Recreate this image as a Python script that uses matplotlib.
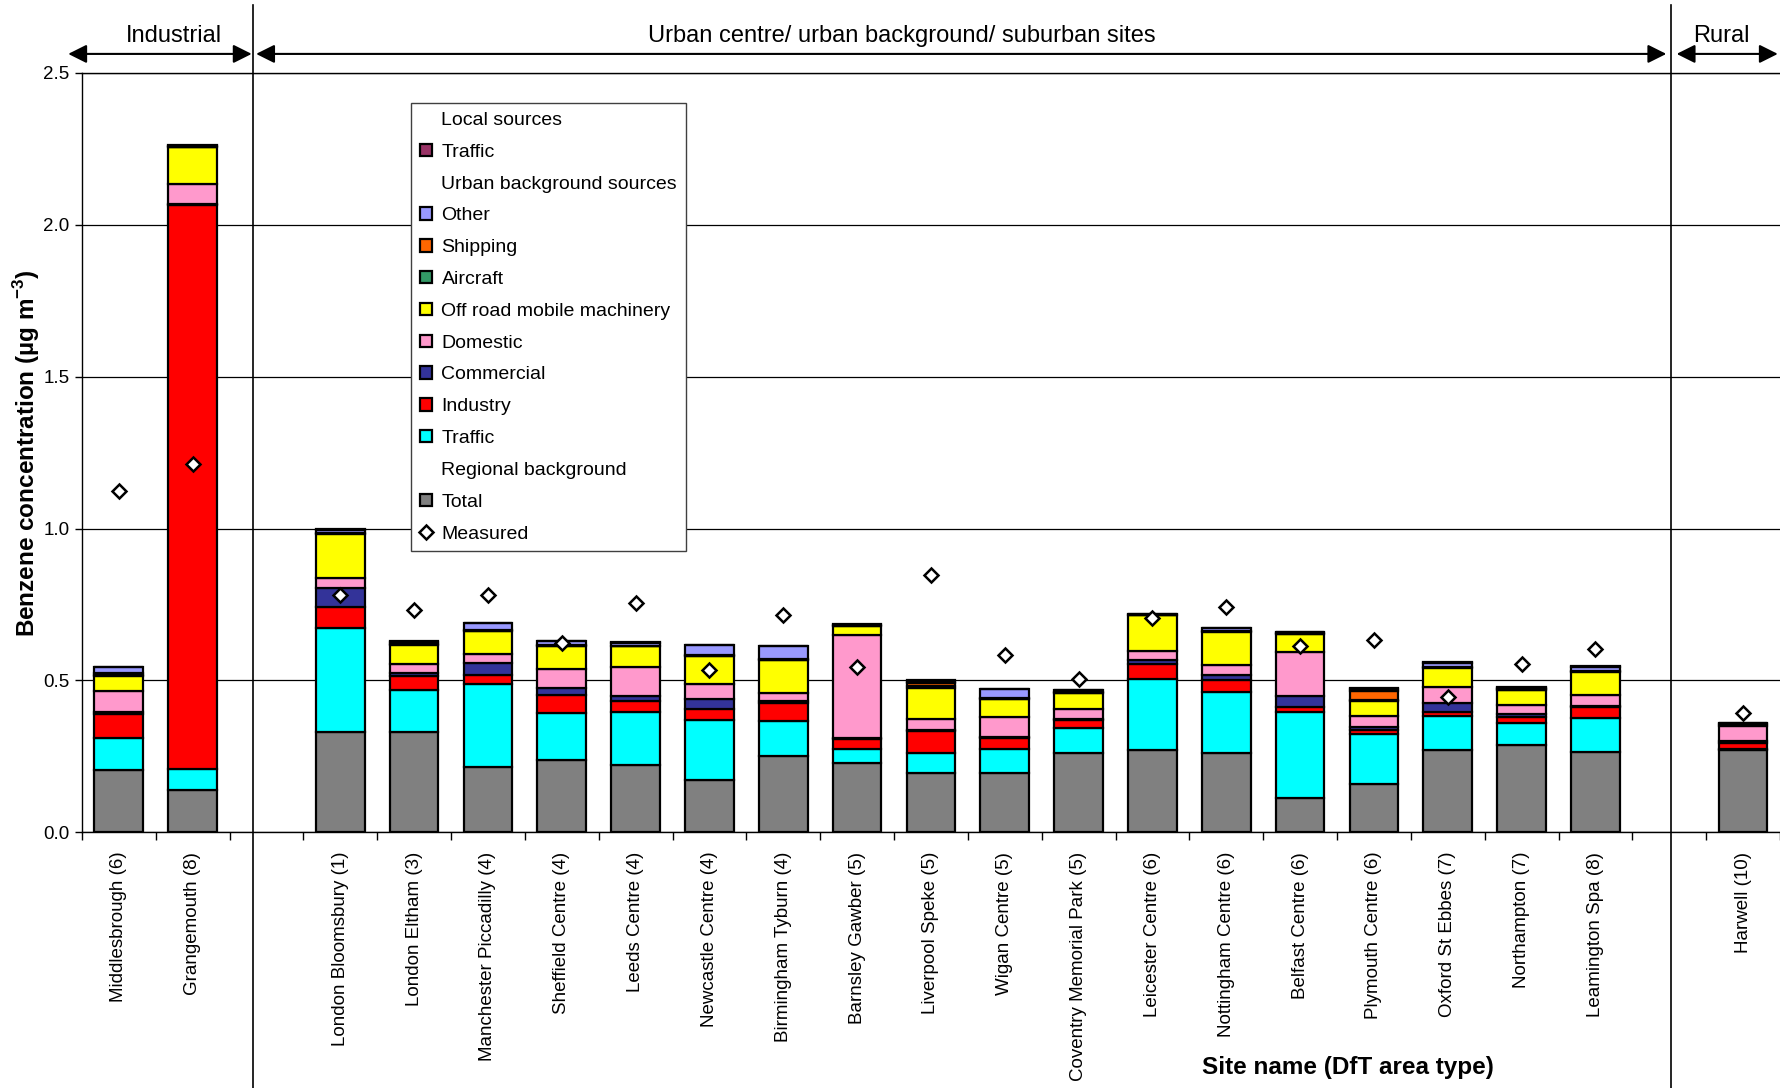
import matplotlib
matplotlib.use('Agg')
import matplotlib.pyplot as plt
from matplotlib.patches import Patch
from matplotlib.lines import Line2D
import numpy as np

plt.rcParams['font.family'] = ['Liberation Sans', 'DejaVu Sans']

# ---------------- data ----------------
industrial_sites = ["Middlesbrough (6)", "Grangemouth (8)"]
urban_sites = ["London Bloomsbury (1)", "London Eltham (3)", "Manchester Piccadilly (4)",
               "Sheffield Centre (4)", "Leeds Centre (4)", "Newcastle Centre (4)",
               "Birmingham Tyburn (4)", "Barnsley Gawber (5)", "Liverpool Speke (5)",
               "Wigan Centre (5)", "Coventry Memorial Park (5)", "Leicester Centre (6)",
               "Nottingham Centre (6)", "Belfast Centre (6)", "Plymouth Centre (6)",
               "Oxford St Ebbes (7)", "Northampton (7)", "Leamington Spa (8)"]
rural_sites = ["Harwell (10)"]
group_names = ["Industrial", "Urban centre/ urban background/ suburban sites", "Rural"]

regional_total = [0.205, 0.140, 0.329, 0.331, 0.214, 0.238, 0.220, 0.172, 0.251, 0.227,
                  0.196, 0.196, 0.262, 0.270, 0.261, 0.112, 0.160, 0.272, 0.287, 0.264, 0.270]
ub_traffic     = [0.105, 0.068, 0.342, 0.138, 0.273, 0.154, 0.176, 0.198, 0.116, 0.046,
                  0.066, 0.077, 0.082, 0.234, 0.202, 0.284, 0.163, 0.111, 0.072, 0.112, 0.003]
ub_industry    = [0.080, 1.858, 0.071, 0.046, 0.030, 0.059, 0.036, 0.037, 0.060, 0.033,
                  0.072, 0.036, 0.025, 0.050, 0.038, 0.017, 0.013, 0.013, 0.022, 0.035, 0.022]
ub_commercial  = [0.005, 0.003, 0.063, 0.009, 0.042, 0.025, 0.017, 0.031, 0.006, 0.003,
                  0.003, 0.005, 0.005, 0.014, 0.018, 0.036, 0.012, 0.031, 0.010, 0.005, 0.005]
ub_domestic    = [0.070, 0.064, 0.031, 0.029, 0.027, 0.061, 0.094, 0.050, 0.027, 0.339,
                  0.035, 0.064, 0.033, 0.029, 0.032, 0.144, 0.035, 0.052, 0.029, 0.036, 0.050]
ub_offroad     = [0.050, 0.122, 0.146, 0.064, 0.076, 0.076, 0.069, 0.093, 0.107, 0.031,
                  0.102, 0.060, 0.051, 0.117, 0.110, 0.060, 0.050, 0.063, 0.049, 0.077, 0.005]
ub_aircraft    = [0.002, 0.000, 0.002, 0.002, 0.001, 0.001, 0.001, 0.001, 0.001, 0.001,
                  0.007, 0.001, 0.001, 0.001, 0.001, 0.001, 0.002, 0.001, 0.001, 0.001, 0.001]
ub_shipping    = [0.006, 0.002, 0.002, 0.002, 0.002, 0.002, 0.002, 0.002, 0.002, 0.002,
                  0.012, 0.002, 0.002, 0.002, 0.002, 0.002, 0.031, 0.002, 0.002, 0.002, 0.002]
ub_other       = [0.020, 0.003, 0.010, 0.007, 0.024, 0.013, 0.008, 0.033, 0.044, 0.002,
                  0.002, 0.030, 0.006, 0.001, 0.007, 0.002, 0.006, 0.014, 0.003, 0.013, 0.001]
local_traffic  = [0.002, 0.002, 0.003, 0.003, 0.001, 0.001, 0.002, 0.001, 0.001, 0.001,
                  0.005, 0.001, 0.002, 0.001, 0.003, 0.001, 0.003, 0.003, 0.003, 0.003, 0.002]
measured       = [1.123, 1.212, 0.782, 0.733, 0.782, 0.623, 0.754, 0.534, 0.714, 0.543,
                  0.846, 0.584, 0.504, 0.705, 0.743, 0.615, 0.634, 0.444, 0.553, 0.603, 0.392]

y_ticks = [0.0, 0.5, 1.0, 1.5, 2.0, 2.5]

# stacking order bottom -> top
series = [
    ("Total", regional_total, "#808080"),
    ("Traffic", ub_traffic, "#00FFFF"),
    ("Industry", ub_industry, "#FF0000"),
    ("Commercial", ub_commercial, "#333399"),
    ("Domestic", ub_domestic, "#FF99CC"),
    ("Off road mobile machinery", ub_offroad, "#FFFF00"),
    ("Aircraft", ub_aircraft, "#339966"),
    ("Shipping", ub_shipping, "#FF6600"),
    ("Other", ub_other, "#9999FF"),
    ("Traffic", local_traffic, "#993366"),
]

# ---------------- positions (one blank slot between groups) ----------------
groups = [industrial_sites, urban_sites, rural_sites]
sites, xpos = [], []
slot = 0
for gi, g in enumerate(groups):
    for s in g:
        sites.append(s)
        xpos.append(slot)
        slot += 1
    if gi < len(groups) - 1:
        slot += 1
n_slots = slot
xpos = np.array(xpos)

fig = plt.figure(figsize=(17.8, 10.88), dpi=100)
ax = fig.add_axes([0.046, 0.235, 0.954, 0.698])

bottom = np.zeros(len(sites))
for name, vals, col in series:
    v = np.array(vals)
    ax.bar(xpos, v, width=0.66, bottom=bottom, color=col, edgecolor='black',
           linewidth=1.6, zorder=3)
    bottom += v

ax.plot(xpos, measured, linestyle='none', marker='D', markersize=7.5,
        markerfacecolor='white', markeredgecolor='black', markeredgewidth=1.8, zorder=5)

ax.set_xlim(-0.5, n_slots - 0.5)
ax.set_ylim(0, 2.5)
ax.set_yticks(y_ticks)
ax.set_yticklabels([f"{t:.1f}" for t in y_ticks], fontsize=13.5)
ax.yaxis.grid(True, color='black', linewidth=0.9, zorder=0)
ax.set_axisbelow(True)
ax.tick_params(axis='y', direction='out', length=5, width=1, pad=4)

ax.set_xticks(xpos)
ax.set_xticklabels(sites, rotation=90, fontsize=13.5, va='top')
ax.tick_params(axis='x', which='major', length=0, pad=14)
ax.set_xticks(np.arange(-0.5, n_slots, 1.0), minor=True)
ax.tick_params(axis='x', which='minor', direction='out', length=6, width=1)

for sp in ['left', 'bottom', 'top']:
    ax.spines[sp].set_color('black')
    ax.spines[sp].set_linewidth(1.0)
ax.spines['right'].set_visible(False)

ax.set_ylabel("Benzene concentration (µg m$^{\\mathregular{-3}}$)", fontsize=17.5,
              fontweight='bold', labelpad=1)
fig.text(0.757, 0.0185, "Site name (DfT area type)", fontsize=17.5, fontweight='bold',
         ha='center', va='center')

# group separators
for xs in [1.82, 21.03]:
    ax.axvline(xs, ymin=-0.337, ymax=1.09, color='black', linewidth=1.2, clip_on=False, zorder=6)

# group arrows and labels
arrow_y = 1.025
spans = [(-0.685, 1.80), (1.86, 20.96), (21.10, 22.47)]
for (x0, x1), gname in zip(spans, group_names):
    ax.annotate('', xy=(x1, arrow_y), xytext=(x0, arrow_y),
                xycoords=('data', 'axes fraction'), textcoords=('data', 'axes fraction'),
                arrowprops=dict(arrowstyle='<|-|>', color='black', lw=1.5,
                                mutation_scale=28, shrinkA=0, shrinkB=0),
                annotation_clip=False)
label_x = [0.75, 10.6, 21.7]
for lx, gname in zip(label_x, group_names):
    ax.text(lx, 1.048, gname, transform=ax.get_xaxis_transform(), ha='center', va='center',
            fontsize=17)

# legend
blank = Patch(facecolor='none', edgecolor='none')
def sq(c):
    return Patch(facecolor=c, edgecolor='black', linewidth=1.6)
handles = [blank, sq("#993366"), blank, sq("#9999FF"), sq("#FF6600"), sq("#339966"),
           sq("#FFFF00"), sq("#FF99CC"), sq("#333399"), sq("#FF0000"), sq("#00FFFF"),
           blank, sq("#808080"),
           Line2D([], [], linestyle='none', marker='D', markersize=7, markerfacecolor='white',
                  markeredgecolor='black', markeredgewidth=1.8)]
labels = ["Local sources", "Traffic", "Urban background sources", "Other", "Shipping",
          "Aircraft", "Off road mobile machinery", "Domestic", "Commercial", "Industry",
          "Traffic", "Regional background", "Total", "Measured"]
leg = ax.legend(handles, labels, loc='upper left', bbox_to_anchor=(0.194, 0.960),
                borderaxespad=0, fontsize=14, frameon=True, fancybox=False, framealpha=1,
                edgecolor='#404040', handlelength=0.6, handleheight=0.6, handletextpad=0.5,
                labelspacing=0.76, borderpad=0.45)
leg.get_frame().set_linewidth(1.0)
leg.set_zorder(10)

fig.savefig("out.png", dpi=100)
